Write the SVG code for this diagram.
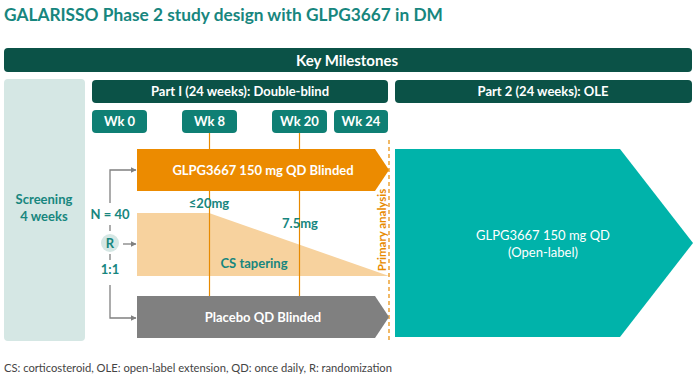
<svg xmlns="http://www.w3.org/2000/svg" width="695" height="381" viewBox="0 0 695 381">
<defs>
<marker id="ah" viewBox="0 0 6 6" refX="5.5" refY="3" markerWidth="6" markerHeight="6" markerUnits="userSpaceOnUse" orient="auto">
<path d="M0,0 L6,3 L0,6 Z" fill="#808080"/>
</marker>
<style>
text{font-family:Lato,"Noto Sans",sans-serif;}
.hdr{fill:#0b5247;}
.wk{fill:#0f7f74;}
.wt{fill:#fff;font-weight:bold;font-size:13px;text-anchor:middle;}
.tl{fill:#17867e;font-weight:bold;text-anchor:middle;font-size:13px;}
.gl{stroke:#808080;stroke-width:1.3;fill:none;}
.ol{stroke:#e88a00;stroke-width:1.2;}
</style>
</defs>
<rect width="695" height="381" fill="#fff"/>
<text x="4" y="21" font-size="17.3" font-weight="bold" fill="#17867e">GALARISSO Phase 2 study design with GLPG3667 in DM</text>

<g id="key-milestones"><rect x="4" y="48" width="688" height="24" rx="4" class="hdr"/><text x="347" y="65.5" class="wt" style="font-size:15px">Key Milestones</text></g>
<g id="screening"><rect x="4" y="79" width="81" height="262" rx="4" fill="#d5e7e4"/><text x="44" y="204" class="tl">Screening</text><text x="44" y="221" class="tl">4 weeks</text></g>
<g id="part1"><rect x="92" y="80" width="296" height="23" rx="4" class="hdr"/><text x="240" y="96" class="wt">Part I (24 weeks): Double-blind</text></g>
<g id="part2"><rect x="395" y="80" width="297" height="23" rx="4" class="hdr"/><text x="543" y="96" class="wt">Part 2 (24 weeks): OLE</text></g>

<g id="wk0"><rect x="92" y="110" width="55" height="23" rx="4" class="wk"/><text x="119.5" y="126" class="wt">Wk 0</text></g>
<g id="wk8"><rect x="182" y="110" width="55" height="23" rx="4" class="wk"/><text x="209.5" y="126" class="wt">Wk 8</text></g>
<g id="wk20"><rect x="272" y="110" width="55" height="23" rx="4" class="wk"/><text x="299.5" y="126" class="wt">Wk 20</text></g>
<g id="wk24"><rect x="334" y="110" width="54" height="23" rx="4" class="wk"/><text x="361" y="126" class="wt">Wk 24</text></g>

<g id="cs-tapering"><polygon points="137,213 209,213 389,276 137,276" fill="#f7d29e"/><text x="254" y="268" class="tl">CS tapering</text></g>

<g id="connectors">
<line x1="209.5" y1="133" x2="209.5" y2="296" class="ol"/>
<line x1="299.5" y1="133" x2="299.5" y2="296" class="ol"/>
<line x1="389" y1="140" x2="389" y2="341" stroke="#e88a00" stroke-width="1.2" stroke-dasharray="4,3"/>
<path d="M110,203 V170 H136" class="gl" marker-end="url(#ah)"/>
<line x1="110" y1="225" x2="110" y2="231" class="gl"/>
<line x1="110" y1="254" x2="110" y2="260" class="gl"/>
<path d="M110,285 V318 H136" class="gl" marker-end="url(#ah)"/>
<line x1="123" y1="244" x2="136" y2="244" class="gl" marker-end="url(#ah)"/>
</g>

<g id="glpg-blinded"><polygon points="137,149 375,149 389,170 375,191 137,191" fill="#ec8b00"/><text x="263" y="175" class="wt">GLPG3667 150 mg QD Blinded</text></g>
<g id="placebo"><polygon points="137,296 375,296 389,317 375,338 137,338" fill="#808080"/><text x="263" y="322" class="wt">Placebo QD Blinded</text></g>
<g id="ole"><polygon points="395,149 620,149 693,243 620,337 395,337" fill="#00b3aa"/><text x="543" y="240" class="wt" style="font-weight:normal">GLPG3667 150 mg QD</text><text x="543" y="257" class="wt" style="font-weight:normal">(Open-label)</text></g>

<g id="labels">
<text x="209" y="208" class="tl">≤20mg</text>
<text x="300" y="228" class="tl">7.5mg</text>
<text x="0" y="0" transform="translate(386,230) rotate(-90)" font-size="11.5" font-weight="bold" fill="#e88a00" text-anchor="middle">Primary analysis</text>
</g>

<g id="randomization">
<text x="110" y="219" class="tl">N = 40</text>
<circle cx="110" cy="243" r="9" fill="#d5e7e4"/>
<text x="110" y="248" class="tl">R</text>
<text x="110" y="274" class="tl">1:1</text>
</g>

<text x="4" y="372" font-size="11.2" fill="#444">CS: corticosteroid, OLE: open-label extension, QD: once daily, R: randomization</text>
</svg>
